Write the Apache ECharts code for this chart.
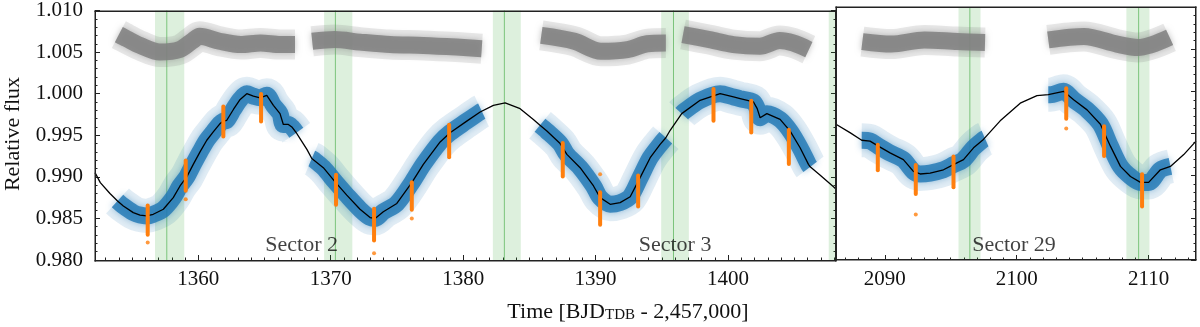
<!DOCTYPE html>
<html>
<head>
<meta charset="utf-8">
<script src="https://cdn.jsdelivr.net/npm/echarts@6/dist/echarts.min.js"></script>
<style>
  html, body { margin: 0; padding: 0; background: #fff; }
  #chart { width: 1200px; height: 327px; }
</style>
</head>
<body>
<div id="chart"></div>
<script>
// ---- model curve (black), left panel: sectors 2 & 3
const modelLeftT = [1352.2, 1352.6, 1353.33, 1353.9, 1354.34, 1355.09, 1355.6, 1356.1, 1356.6, 1357.36,
  1358.11, 1358.62, 1359.13, 1359.62, 1360.13, 1360.64, 1361.13, 1361.64, 1361.9, 1362.15,
  1362.65, 1363.16, 1363.66, 1364.16, 1364.66, 1365.17, 1365.67, 1366.17, 1366.42, 1366.8,
  1367.06, 1367.4, 1367.68, 1368.2, 1368.57, 1368.69, 1369.44, 1370.33, 1371.21, 1372.21,
  1372.97, 1373.35, 1373.97, 1374.99, 1376.12, 1376.99, 1378.26, 1379.01, 1380.27, 1381.28,
  1381.4, 1382.28, 1383.17, 1384.3, 1385.3, 1385.8, 1386.32, 1387.32, 1387.83, 1388.83,
  1389.84, 1390.34, 1391.1, 1391.85, 1392.61, 1393.36, 1394.12, 1394.87, 1395.3, 1395.63,
  1396.5, 1396.63, 1397.89, 1399.4, 1400.41, 1400.91, 1401.92, 1402.2, 1402.42, 1402.93,
  1403.93, 1404.69, 1405.44, 1406.07, 1406.2, 1406.96, 1407.96, 1408.16];
const modelLeftF = [0.9905, 0.9893, 0.9880, 0.9871, 0.9865, 0.9857, 0.9854, 0.9853, 0.9855, 0.9861,
  0.9875, 0.9889, 0.9900, 0.9915, 0.9930, 0.9944, 0.9954, 0.9964, 0.9967, 0.9968,
  0.9981, 0.9993, 1.0000, 0.9997, 0.9995, 0.9998, 0.9986, 0.9976, 0.9963, 0.9963,
  0.9960, 0.9953, 0.9946, 0.9933, 0.9922, 0.9921, 0.9911, 0.9894, 0.9878, 0.9861,
  0.9851, 0.9850, 0.9858, 0.9868, 0.9893, 0.9915, 0.9942, 0.9953, 0.9967, 0.9978,
  0.9979, 0.9986, 0.9989, 0.9982, 0.9969, 0.9962, 0.9955, 0.9940, 0.9927, 0.9911,
  0.9889, 0.9875, 0.9867, 0.9869, 0.9876, 0.9899, 0.9923, 0.9939, 0.9947, 0.9956,
  0.9976, 0.9978, 0.9992, 1.0000, 0.9996, 0.9994, 0.9990, 0.9982, 0.9971, 0.9976,
  0.9969, 0.9955, 0.9935, 0.9915, 0.9912, 0.9902, 0.9888, 0.9885];

// ---- model curve, right panel: sector 29
const modelRightT = [2086.3, 2087.36, 2088.25, 2088.88, 2089.51, 2090.4, 2091.41, 2092.17, 2092.68, 2093.44,
  2094.45, 2095.21, 2095.97, 2096.73, 2097.48, 2097.6, 2098.75, 2100.27, 2101.54, 2102.4,
  2102.55, 2103.56, 2104.32, 2105.34, 2106.35, 2107.11, 2107.87, 2108.63, 2109.39, 2110.01,
  2110.9, 2111.66, 2112.67, 2113.6];
const modelRightF = [0.9961, 0.9951, 0.9942, 0.9941, 0.9935, 0.9927, 0.9919, 0.9905, 0.9902, 0.9903,
  0.9907, 0.9913, 0.9919, 0.9933, 0.9943, 0.9944, 0.9965, 0.9986, 0.9995, 0.9996,
  0.9996, 1.0000, 0.9990, 0.9978, 0.9961, 0.9935, 0.9911, 0.9899, 0.9892, 0.9892,
  0.9907, 0.9911, 0.9925, 0.9941];

// ---- observed TESS segments (blue flux & grey residuals exist only here)
const segStartLeft = [1353.9, 1368.57, 1385.8, 1396.5];
const segEndLeft = [1367.4, 1381.4, 1395.3, 1406.2];
const segStartRight = [2088.25, 2102.4];
const segEndRight = [2097.6, 2111.66];

// ---- grey residuals (offset), null = gap
const grayLeftT = [1354.0, 1354.6, 1355.6, 1357.1, 1358.6, 1359.6, 1360.1, 1361.6, 1363.2, 1364.7, 1366.2, 1367.3, null,
  1368.6, 1370.3, 1372.2, 1374.5, 1377.0, 1379.5, 1381.4, null,
  1385.9, 1388.4, 1390.4, 1392.4, 1393.9, 1395.3, null,
  1396.6, 1398.6, 1400.4, 1402.4, 1403.9, 1404.9, 1406.1];
const grayLeftF = [1.0071, 1.0066, 1.0058, 1.0050, 1.0053, 1.0064, 1.0069, 1.0063, 1.0059, 1.0061, 1.0059, 1.0059, null,
  1.0063, 1.0065, 1.0062, 1.0059, 1.0058, 1.0056, 1.0054, null,
  1.0070, 1.0063, 1.0051, 1.0053, 1.0060, 1.0061, null,
  1.0071, 1.0065, 1.0059, 1.0057, 1.0064, 1.0061, 1.0053];
const grayRightT = [2088.3, 2090.5, 2093.0, 2095.5, 2097.6, null, 2102.4, 2105.1, 2107.6, 2109.2, 2111.6];
const grayRightF = [1.0059, 1.0056, 1.0061, 1.0059, 1.0058, null, 1.0061, 1.0065, 1.0056, 1.0052, 1.0064];

// ---- orange flare streaks: time, low, high
const flareLeftT = [1356.18, 1359.05, 1361.89, 1364.74, 1370.40, 1373.27, 1376.12, 1378.94, 1387.52, 1390.34, 1393.21, 1398.90, 1401.75, 1404.59];
const flareLeftLo = [0.9828, 0.9881, 0.9946, 0.9964, 0.9864, 0.9821, 0.9858, 0.9921, 0.9898, 0.9840, 0.9862, 0.9965, 0.9951, 0.9913];
const flareLeftHi = [0.9868, 0.9922, 0.9987, 1.0002, 0.9905, 0.9864, 0.9896, 0.9965, 0.9943, 0.9884, 0.9904, 1.0008, 0.9994, 0.9959];
const flareRightT = [2089.47, 2092.35, 2095.21, 2103.76, 2106.63, 2109.51];
const flareRightLo = [0.9904, 0.9876, 0.9884, 0.9965, 0.9921, 0.9861];
const flareRightHi = [0.9939, 0.9915, 0.9925, 1.0006, 0.9961, 0.9904];
const outlierLeft = [[1356.18, 0.9821], [1359.05, 0.9873], [1373.27, 0.9808], [1376.12, 0.9850], [1390.34, 0.9903]];
const outlierRight = [[2092.35, 0.9854], [2103.76, 0.9956]];

// ---- green windows: start, end, centre
const bandLeftStart = [1356.73, 1369.5, 1382.24, 1394.95, 1407.6];
const bandLeftEnd = [1358.94, 1371.63, 1384.35, 1397.04, 1409.7];
const bandLeftMid = [1357.62, 1370.35, 1383.11, 1395.88, 1408.63];
const bandRightStart = [2095.59, 2108.32];
const bandRightEnd = [2097.26, 2110.07];
const bandRightMid = [2096.45, 2109.25];

// ---- axis ranges, ticks and text
const xRangeLeft = [1352.2, 1408.15];
const xRangeRight = [2086.3, 2113.6];
const yRange = [0.98, 1.01];
const xTicksLeft = [1360, 1370, 1380, 1390, 1400];
const xTicksRight = [2090, 2100, 2110];
const sectorNames = ['Sector 2', 'Sector 3', 'Sector 29'];
const sectorX = [1367.8, 1396.0, 2099.8];
const sectorY = 0.9818;

const FONT = 'Liberation Serif';
const SPINE = '#222';
const zip = (a, b) => a.map((v, i) => (v === null ? [null, '-'] : [v, b[i]]));
const inSeg = (t, s, e) => s.some((v, i) => t >= v && t <= e[i]);
const segData = (T, F, s, e) => T.map((t, i) => (inSeg(t, s, e) ? [t, F[i]] : [t, '-']));
const minorTicks = (lo, hi, majors) => {
  const out = [];
  for (let v = Math.ceil(lo); v <= hi; v++) if (!majors.includes(v)) out.push(v);
  return out;
};

function bandItem(params, api) {
  const cs = params.coordSys;
  const p0 = api.coord([api.value(0), yRange[1]]);
  const p1 = api.coord([api.value(1), yRange[0]]);
  const rect = echarts.graphic.clipRectByRect(
    { x: p0[0], y: p0[1], width: p1[0] - p0[0], height: p1[1] - p0[1] },
    { x: cs.x, y: cs.y, width: cs.width, height: cs.height });
  const children = [];
  if (rect) children.push({ type: 'rect', shape: rect, style: { fill: 'rgba(44,160,44,0.16)' } });
  const xm = api.coord([api.value(2), yRange[1]])[0];
  if (xm >= cs.x && xm <= cs.x + cs.width) {
    children.push({ type: 'line', shape: { x1: xm, y1: cs.y, x2: xm, y2: cs.y + cs.height },
      style: { stroke: 'rgba(44,160,44,0.55)', lineWidth: 1 } });
  }
  return { type: 'group', children: children };
}

function flareItem(params, api) {
  const top = api.coord([api.value(0), api.value(2)]);
  const bot = api.coord([api.value(0), api.value(1)]);
  return { type: 'rect', shape: { x: top[0] - 2, y: top[1], width: 4, height: bot[1] - top[1], r: 2 },
    style: { fill: '#ff7f0e' } };
}

// box around a panel, taken from the grid rect the series is drawn in
function frameItem(params) {
  const cs = params.coordSys;
  const x0 = Math.round(cs.x), y0 = Math.round(cs.y);
  const w = Math.round(cs.width), h = Math.round(cs.height);
  return { type: 'group', children: [
    { type: 'rect', shape: { x: x0 - 0.5, y: y0 - 0.5, width: w + 1, height: 1.5 }, style: { fill: SPINE } },
    { type: 'rect', shape: { x: x0 - 0.5, y: y0 + h - 1, width: w + 1, height: 1.5 }, style: { fill: SPINE } },
    { type: 'rect', shape: { x: x0 - 0.5, y: y0 - 0.5, width: 1.5, height: h + 1 }, style: { fill: SPINE } },
    { type: 'rect', shape: { x: x0 + w - 1, y: y0 - 0.5, width: 1.5, height: h + 1 }, style: { fill: SPINE } }
  ] };
}

function panelSeries(xi, yi, p) {
  const blue = segData(p.mT, p.mF, p.s, p.e);
  const gray = zip(p.gT, p.gF);
  return [
    { type: 'custom', xAxisIndex: xi, yAxisIndex: yi, z: 1, renderItem: bandItem, silent: true,
      data: p.bS.map((v, i) => [v, p.bE[i], p.bM[i]]) },
    { type: 'line', xAxisIndex: xi, yAxisIndex: yi, z: 2, data: gray, showSymbol: false, connectNulls: false, smooth: 0.3,
      lineStyle: { color: 'rgba(128,128,128,0.18)', width: 30 } },
    { type: 'line', xAxisIndex: xi, yAxisIndex: yi, z: 2, data: gray, showSymbol: false, connectNulls: false, smooth: 0.3,
      lineStyle: { color: 'rgba(128,128,128,0.85)', width: 17, shadowBlur: 6, shadowColor: 'rgba(128,128,128,0.6)' } },
    { type: 'line', xAxisIndex: xi, yAxisIndex: yi, z: 2, data: blue, showSymbol: false, connectNulls: false, smooth: 0.3,
      lineStyle: { color: 'rgba(31,119,180,0.13)', width: 34 } },
    { type: 'line', xAxisIndex: xi, yAxisIndex: yi, z: 2, data: blue, showSymbol: false, connectNulls: false, smooth: 0.3,
      lineStyle: { color: 'rgba(31,119,180,0.8)', width: 17, shadowBlur: 7, shadowColor: 'rgba(31,119,180,0.55)' } },
    { type: 'line', xAxisIndex: xi, yAxisIndex: yi, z: 3, data: zip(p.mT, p.mF), showSymbol: false,
      lineStyle: { color: '#000', width: 1.3 } },
    { type: 'custom', xAxisIndex: xi, yAxisIndex: yi, z: 4, renderItem: flareItem, silent: true,
      data: p.fT.map((v, i) => [v, p.fLo[i], p.fHi[i]]) },
    { type: 'scatter', xAxisIndex: xi, yAxisIndex: yi, z: 4, data: p.out, symbolSize: 4,
      itemStyle: { color: '#ff7f0e' } },
    { type: 'custom', xAxisIndex: xi, yAxisIndex: yi, z: 30, zlevel: 2, renderItem: frameItem, silent: true,
      clip: false, data: [[p.mT[1], p.mF[1]]] }
  ];
}

function xAxes(grid, range, majors) {
  const common = { type: 'value', gridIndex: grid, min: range[0], max: range[1], offset: 0, position: 'bottom',
    splitLine: { show: false }, axisLine: { show: false } };
  return [
    Object.assign({}, common, {
      axisTick: { show: true, inside: true, length: 5, customValues: majors, lineStyle: { color: SPINE } },
      axisLabel: { show: true, customValues: majors, margin: 9, color: '#111', fontFamily: FONT, fontSize: 21,
        formatter: (v) => String(v) }
    }),
    Object.assign({}, common, {
      axisTick: { show: true, inside: true, length: 2.5, customValues: minorTicks(range[0], range[1], majors), lineStyle: { color: SPINE } },
      axisLabel: { show: false }
    })
  ];
}

function yAxis(grid, pos, labels) {
  return {
    type: 'value', gridIndex: grid, position: pos, min: yRange[0], max: yRange[1], interval: 0.005,
    axisLine: { show: false }, splitLine: { show: false },
    axisTick: { show: true, inside: true, length: 5, lineStyle: { color: SPINE } },
    minorTick: { show: true, splitNumber: 5, length: 2.5, lineStyle: { color: SPINE } },
    axisLabel: { show: labels, margin: 12, color: '#111', fontFamily: FONT, fontSize: 21,
      formatter: (v) => v.toFixed(3) }
  };
}

const chart = echarts.init(document.getElementById('chart'), null, { renderer: 'canvas' });
const option = {
  animation: false,
  backgroundColor: '#fff',
  grid: [
    { left: 95, top: 7, width: 741, height: 253 },
    { left: 836, top: 7, width: 360, height: 253 }
  ],
  xAxis: [].concat(xAxes(0, xRangeLeft, xTicksLeft), xAxes(1, xRangeRight, xTicksRight)),
  yAxis: [yAxis(0, 'left', true), yAxis(0, 'right', false), yAxis(1, 'right', false)],
  series: [].concat(
    panelSeries(0, 0, { mT: modelLeftT, mF: modelLeftF, s: segStartLeft, e: segEndLeft, gT: grayLeftT, gF: grayLeftF,
      bS: bandLeftStart, bE: bandLeftEnd, bM: bandLeftMid, fT: flareLeftT, fLo: flareLeftLo, fHi: flareLeftHi, out: outlierLeft }),
    panelSeries(2, 2, { mT: modelRightT, mF: modelRightF, s: segStartRight, e: segEndRight, gT: grayRightT, gF: grayRightF,
      bS: bandRightStart, bE: bandRightEnd, bM: bandRightMid, fT: flareRightT, fLo: flareRightLo, fHi: flareRightHi, out: outlierRight }),
    [
      { type: 'scatter', xAxisIndex: 0, yAxisIndex: 0, z: 5, symbolSize: 0, silent: true,
        data: [0, 1].map((i) => ({ value: [sectorX[i], sectorY], name: sectorNames[i] })),
        label: { show: true, position: 'inside', formatter: '{b}', color: '#111', fontFamily: FONT, fontSize: 22 } },
      { type: 'scatter', xAxisIndex: 2, yAxisIndex: 2, z: 5, symbolSize: 0, silent: true,
        data: [{ value: [sectorX[2], sectorY], name: sectorNames[2] }],
        label: { show: true, position: 'inside', formatter: '{b}', color: '#111', fontFamily: FONT, fontSize: 22 } }
    ]
  ),
  graphic: [
    { type: 'text', x: 13, y: 134, rotation: Math.PI / 2,
      style: { text: 'Relative flux', fontFamily: FONT, fontSize: 22, fill: '#111', align: 'center', verticalAlign: 'middle' } },
    { type: 'text', x: 628, y: 312,
      style: { text: 'Time [BJD{sub|TDB} - 2,457,000]', fontFamily: FONT, fontSize: 22, fill: '#111',
        align: 'center', verticalAlign: 'middle',
        rich: { sub: { fontFamily: FONT, fontSize: 15, fill: '#111', verticalAlign: 'bottom', padding: [5, 0, 0, 0] } } } }
  ]
};
chart.setOption(option);
</script>
</body>
</html>
